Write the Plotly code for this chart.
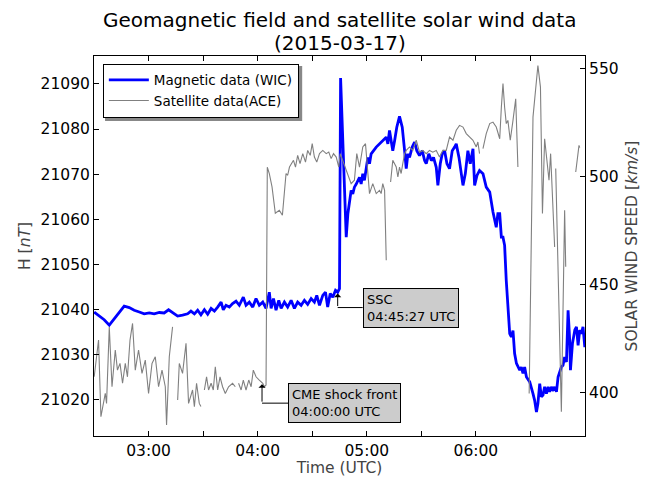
import pandas as pd
import plotly.graph_objects as go

DAY = pd.Timestamp("2015-03-17")

# Magnetic data (WIC): minutes after 00:00 UTC, horizontal component H [nT]
mag_minutes = [150.1,152.9,155.6,158.4,161.1,163.9,166.6,169.4,172.1,174.9,177.6,180.4,183.1,185.9,188.6,191.0,193.2,196.0,198.7,201.5,
               203.3,205.2,207.0,208.8,210.7,212.5,214.4,216.2,218.0,219.9,221.1,222.6,224.4,226.2,228.1,229.9,232.1,233.6,235.4,237.3,
               239.1,240.9,242.8,244.6,246.4,247.4,248.7,250.1,251.6,252.9,254.7,256.5,258.4,260.2,262.0,263.9,265.7,267.5,269.4,271.2,
               272.5,274.0,275.8,277.3,278.5,279.9,281.3,282.8,284.0,285.0,285.6,
               288.7,289.6,290.5,291.4,292.3,293.2,294.2,296.0,296.9,297.8,298.7,299.7,300.6,301.5,302.4,305.2,307.0,308.8,310.7,311.6,
               312.5,313.4,314.3,315.3,316.5,318.0,319.5,320.8,321.7,322.6,323.5,325.0,326.3,327.5,329.0,330.5,331.8,332.7,334.1,335.5,
               336.7,338.2,339.1,340.4,341.5,342.8,344.1,345.5,347.0,348.3,349.2,350.7,352.0,352.9,354.2,355.6,356.9,358.4,359.3,360.6,
               362.0,363.9,365.7,367.6,369.4,371.2,372.1,373.1,374.0,374.9,375.8,376.7,378.6,379.5,380.4,381.3,382.3,383.1,384.1,385.0,
               385.9,386.8,387.8,389.6,390.5,391.4,392.3,393.3,394.1,395.1,396.0,396.9,397.8,398.8,399.7,400.6,401.5,402.4,403.3,404.3,
               405.2,406.1,407.0,407.9,408.8,409.8,410.7,411.6,412.0,413.1,414.4,415.3,416.2,417.1,418.0,418.9,419.9]
mag_h = [21039.4,21038.5,21037.7,21036.5,21037.9,21039.4,21040.7,21040.4,21039.8,21039.4,21039.0,21039.2,21039.0,21039.3,21039.2,
         21039.9,21039.2,21038.5,21038.7,21039.0,21039.6,21039.0,21039.8,21038.8,21039.9,21038.9,21040.2,21039.6,21040.5,21041.6,
         21039.9,21040.9,21040.5,21041.3,21041.8,21040.9,21042.7,21040.9,21041.6,21040.5,21042.4,21040.9,21041.6,21040.2,21043.8,
         21040.2,21042.4,21039.8,21042.0,21040.2,21041.6,21040.5,21042.0,21040.2,21041.6,21040.9,21042.0,21041.1,21042.4,21041.6,
         21043.1,21040.9,21043.1,21043.8,21040.5,21043.5,21042.7,21044.2,21043.8,21044.6,21091.3,
         21056.0,21061.2,21064.1,21066.4,21065.6,21067.1,21067.8,21069.3,21067.8,21070.1,21068.6,21071.5,21073.7,21072.3,21074.5,
         21076.0,21076.7,21077.4,21078.2,21076.7,21079.7,21077.4,21075.2,21077.4,21080.4,21082.8,21080.4,21075.2,21071.2,21074.5,
         21073.7,21076.0,21077.1,21075.2,21074.1,21075.2,21073.0,21072.3,21074.5,21073.0,21073.7,21071.5,21067.5,21072.3,21074.5,
         21075.2,21072.3,21071.2,21075.2,21076.0,21076.7,21073.7,21070.1,21067.5,21070.1,21075.2,21072.3,21075.6,21067.5,21069.7,
         21070.8,21070.1,21067.1,21066.0,21061.6,21058.2,21061.2,21061.2,21056.0,21056.0,21054.2,21046.4,21034.6,21033.9,21035.3,
         21030.2,21028.0,21027.2,21026.5,21027.2,21025.8,21027.2,21025.0,21023.9,21022.8,21021.3,21019.8,21017.2,21019.1,21023.5,
         21020.6,21021.0,21022.8,21021.3,21022.8,21021.7,21022.8,21022.2,21022.8,21021.7,21025.0,21026.1,21027.2,21027.6,21029.4,
         21028.3,21039.8,21033.1,21026.5,21032.4,21035.4,21036.1,21032.0,21035.4,21034.6,21036.1,21031.6]

# Satellite data (ACE): minutes after 00:00 UTC, solar wind speed [km/s]; None = data gap
ace_minutes = [150.1,152.5,153.8,156.2,156.9,158.4,159.9,161.7,162.9,164.3,165.7,167.2,168.4,169.8,171.2,172.7,174.5,176.4,178.2,180.0,
               181.9,183.7,185.5,187.4,189.2,189.9,191.4,193.2,194.6,
               196.0,196.9,198.7,200.6,202.0,204.2,205.2,206.4,207.9,208.8,209.7,
               210.7,211.9,213.0,214.4,215.6,216.7,218.0,219.3,220.7,222.2,224.0,226.2,227.7,228.6,
               229.5,230.9,232.1,233.6,235.1,236.4,237.6,239.1,240.9,242.8,243.7,244.6,245.3,246.4,247.9,249.7,251.9,253.6,255.6,256.5,
               257.5,259.7,260.8,262.0,263.3,264.8,266.3,267.5,268.9,270.0,271.2,272.5,274.0,275.8,277.7,279.1,280.4,281.7,283.2,284.6,
               285.4,289.6,291.4,293.2,294.5,296.0,297.8,299.3,300.6,301.5,303.3,305.2,307.0,307.9,308.8,309.8,310.7,312.0,
               313.1,314.3,316.2,317.1,318.0,318.9,319.8,320.8,321.7,323.5,325.3,327.2,329.0,330.8,332.7,334.5,336.3,338.2,340.0,341.8,
               343.7,345.5,347.4,349.2,351.0,352.9,354.7,356.5,358.4,360.2,361.1,362.0,363.0,
               363.9,365.7,367.6,369.4,371.2,373.1,374.0,374.9,375.8,376.7,377.6,378.9,380.4,381.9,383.1,386.0,
               389.3,391.4,394.1,395.5,396.6,397.8,400.2,401.1,403.3,403.6,
               403.9,407.0,408.8,409.4,412.0,
               414.9,416.7,417.1]
ace_speed = [407.4,424.4,388.9,399.7,395.1,430.5,402.8,419.8,410.5,413.6,404.4,413.6,407.4,424.4,432.1,410.5,419.8,409.0,415.1,399.7,
             413.6,416.7,402.8,410.5,402.8,385.1,416.7,430.5,None,
             396.7,413.6,409.0,422.9,395.1,401.3,393.6,404.4,395.1,393.6,None,
             401.3,407.4,401.3,404.4,401.3,412.0,401.3,407.4,402.8,399.7,402.8,404.4,402.8,None,
             404.4,401.3,405.9,401.3,405.9,402.8,410.5,407.4,405.9,404.4,402.8,403.6,504.4,501.5,495.3,483.1,484.5,482.2,501.5,500.7,
             504.5,507.6,504.5,509.9,506.1,510.7,506.8,512.2,509.9,515.3,509.1,506.8,510.7,512.2,510.7,511.4,508.4,510.7,509.1,504.5,
             510.7,501.5,496.8,498.4,510.7,504.5,513.8,515.3,503.0,492.2,496.8,492.2,493.7,492.2,496.8,493.7,461.4,None,
             497.6,507.6,504.5,499.9,504.5,501.5,506.1,510.7,512.2,513.8,512.2,516.9,511.4,512.2,510.7,512.2,511.4,512.2,509.1,512.2,
             512.2,518.4,516.9,521.5,523.8,523.0,520.0,518.4,516.9,513.8,516.1,510.7,None,
             513.0,520.0,524.6,525.3,523.0,517.6,532.2,543.1,532.2,524.6,526.1,516.9,526.1,536.1,504.5,None,
             399.7,527.6,551.5,541.5,483.0,517.6,498.4,510.7,467.5,None,
             503.8,391.2,484.5,458.3,None,
             502.2,514.5,513.5]

# Event annotations
ssc_label = "SSC<br>04:45:27 UTC"
ssc_point = (284.0, 21043.5)
cme_label = "CME shock front<br>04:00:00 UTC"
cme_point = (242.4, 404.0)

# Axis ticks
x_tick_minutes = [180, 210, 240, 270, 300, 330, 360, 390]
x_tick_labels = ["03:00", "", "04:00", "", "05:00", "", "06:00", ""]
h_ticks = [21020, 21030, 21040, 21050, 21060, 21070, 21080, 21090]
v_ticks = [400, 450, 500, 550]
x_range_minutes = [150, 420]
h_range = [21011.9, 21096.2]
v_range = [380.0, 555.9]

TITLE_LINES = ["Geomagnetic field and satellite solar wind data", "(2015-03-17)"]

# The page body has an 8px margin, so the figure is laid out 8px smaller
PAGE_OFFSET = 8
PLOT_H = 380


def to_time(m):
    return [None if v is None else DAY + pd.Timedelta(minutes=v) for v in m]


def t1(v):
    return DAY + pd.Timedelta(minutes=v)


FONT = "DejaVu Sans"
fig = go.Figure()
fig.add_trace(go.Scatter(x=to_time(mag_minutes), y=mag_h, mode="lines", name="Magnetic data (WIC)",
                         line=dict(color="#0000ff", width=2.8), yaxis="y"))
fig.add_trace(go.Scatter(x=to_time(ace_minutes), y=ace_speed, mode="lines", name="Satellite data(ACE)",
                         line=dict(color="#808080", width=1.1), yaxis="y2", connectgaps=False))

axis_common = dict(showline=True, linecolor="black", linewidth=1, ticks="inside", ticklen=5,
                   tickcolor="black", showgrid=False, zeroline=False, automargin=False,
                   tickfont=dict(family=FONT, size=15.5, color="black"))

fig.update_layout(
    width=654 - PAGE_OFFSET, height=477 - PAGE_OFFSET,
    margin=dict(l=94 - PAGE_OFFSET, r=69, t=56 - PAGE_OFFSET, b=41),
    paper_bgcolor="white", plot_bgcolor="white",
    font=dict(family=FONT, color="black"),
    xaxis=dict(**axis_common, mirror="ticks", type="date",
               range=[t1(x_range_minutes[0]), t1(x_range_minutes[1])],
               tickvals=to_time(x_tick_minutes), ticktext=x_tick_labels,
               title=dict(text="Time (UTC)", font=dict(family=FONT, size=15.5, color="#444"), standoff=4)),
    yaxis=dict(**axis_common, range=h_range, tickvals=h_ticks, ticktext=[str(v) for v in h_ticks],
               title=dict(text="H [<i>nT</i>]", font=dict(family=FONT, size=15.5, color="#444"), standoff=6)),
    yaxis2=dict(**axis_common, overlaying="y", side="right", range=v_range, tickvals=v_ticks,
                ticktext=[str(v) for v in v_ticks],
                title=dict(text="SOLAR WIND SPEED [<i>km/s</i>]", font=dict(family=FONT, size=15.5, color="#444"),
                           standoff=8)),
    legend=dict(x=0.018, y=0.98, xanchor="left", yanchor="top", bgcolor="white",
                bordercolor="black", borderwidth=1, font=dict(family=FONT, size=13.5, color="black"),
                tracegroupgap=0, itemwidth=40),
    showlegend=True,
)

# title lines as paper annotations above the plot (centres 36 px and 13 px above the frame)
for line, above in zip(TITLE_LINES, [36, 13]):
    fig.add_annotation(xref="paper", yref="paper", x=0.5, y=1 + above / PLOT_H, xanchor="center",
                       yanchor="middle", text=line, showarrow=False,
                       font=dict(family=FONT, size=20, color="black"))

# legend shadow
fig.add_shape(type="rect", xref="paper", yref="paper", x0=0.0225, x1=0.424, y0=0.829, y1=0.974,
              fillcolor="#888888", line=dict(width=0), layer="above")

for (label, (px, py), yref, drop, run) in [
    (ssc_label, ssc_point, "y", 14, 25),
    (cme_label, cme_point, "y2", 19, 26),
]:
    fig.add_annotation(x=t1(px), y=py, xref="x", yref=yref, text="", showarrow=True,
                       ax=0, ay=drop, arrowhead=1, arrowsize=1.2, arrowwidth=1, arrowcolor="black", standoff=0)
    fig.add_shape(type="line", xref="x", yref=yref, xsizemode="pixel", ysizemode="pixel",
                  xanchor=t1(px), yanchor=py, x0=0, x1=run, y0=-drop, y1=-drop,
                  line=dict(color="black", width=1))
    fig.add_annotation(x=t1(px), y=py, xref="x", yref=yref, text=label, showarrow=False,
                       xanchor="left", yanchor="middle", align="left", xshift=run, yshift=-drop,
                       font=dict(family=FONT, size=13, color="black"),
                       bgcolor="#cccccc", bordercolor="black", borderwidth=1, borderpad=3)

fig.write_html("out.html")
